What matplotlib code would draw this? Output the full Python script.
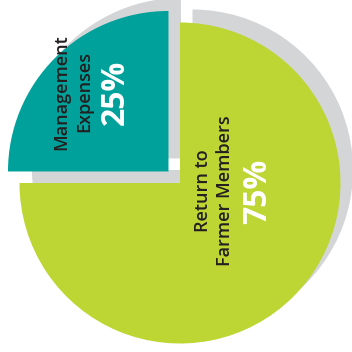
import matplotlib
matplotlib.use("Agg")
import matplotlib.pyplot as plt

# Data
labels = ["Return to\nFarmer Members", "Management\nExpenses"]
values = [75, 25]
pct_labels = ["75%", "25%"]

colors = ["#bdd633", "#00a19b"]
shadow = "#d4d5d7"
explode = [0, 16.3]  # pie offsets in data units here

fig = plt.figure(figsize=(3.52, 3.52), dpi=100)
ax = fig.add_axes([0, 0, 1, 1])

cx, cy, r = 180, 169, 160.5

# gray shadow pie, shifted up-right
ax.pie(values, colors=[shadow, shadow], startangle=90, counterclock=False,
       explode=explode, center=(cx + 12.5, cy + 13), radius=r, frame=True,
       wedgeprops=dict(linewidth=0))
# main pie
ax.pie(values, colors=colors, startangle=90, counterclock=False,
       explode=explode, center=(cx, cy), radius=r, frame=True,
       wedgeprops=dict(linewidth=0))

ax.set_xlim(0, 352)
ax.set_ylim(0, 352)
ax.set_aspect("equal")
ax.axis("off")

font = "Open Sans"
# labels
ax.text(214, 161, labels[0], rotation=90, ha="center", va="center",
        fontsize=13, fontweight="semibold", color="#231f20", family=font,
        linespacing=1.35)
ax.text(257.5, 161, pct_labels[0], rotation=90, ha="center", va="center",
        fontsize=23, fontweight="bold", color="white", family=font)
ax.text(72.5, 260, labels[1], rotation=90, ha="center", va="center",
        fontsize=13, fontweight="semibold", color="#231f20", family=font,
        linespacing=1.35)
ax.text(115, 260, pct_labels[1], rotation=90, ha="center", va="center",
        fontsize=23, fontweight="bold", color="white", family=font)

fig.savefig("out.png", dpi=100)
